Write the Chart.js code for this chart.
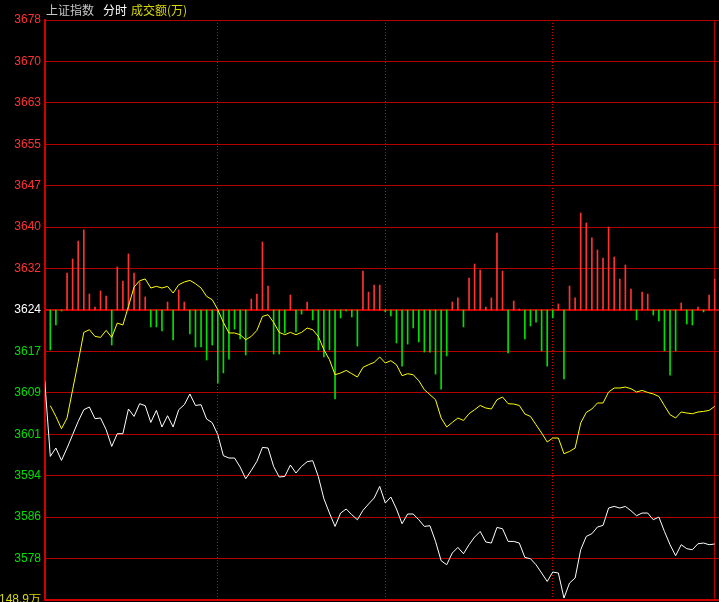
<!DOCTYPE html>
<html>
<head>
<meta charset="utf-8">
<title>上证指数 分时</title>
<script src="https://cdn.jsdelivr.net/npm/chart.js@4/dist/chart.umd.min.js"></script>
<style>
  html, body { margin: 0; padding: 0; background: #000; }
  canvas { display: block; }
</style>
</head>
<body>
<canvas id="fenshi" width="719" height="602"></canvas>
<script>
// 分时图 — white = index, yellow = second line, bars = 成交额 (red up / green down)

const PREV_CLOSE = 3624.3;   // 昨收, middle line
const STEP       = 7.68;     // price step between grid lines

// y tick labels, top → bottom
const TICK_LABELS = ['3678', '3670', '3663', '3655', '3647', '3640', '3632', '3624',
                     '3617', '3609', '3601', '3594', '3586', '3578', '148.9万'];
const VOL_MAX = 148.9;       // 万

// slot index of first price point (one point every 2 minutes)
const FIRST_SLOT = -1;

const PRICE = [
    3611.19, 3597.16, 3598.71, 3596.42, 3598.71, 3601.18, 3603.65, 3605.82, 3606.32, 3604.15,
    3604.28, 3602.11, 3599.01, 3601.37, 3601.37, 3605.95, 3604.57, 3606.93, 3606.56, 3603.46,
    3605.69, 3602.61, 3604.70, 3602.61, 3605.82, 3606.74, 3608.73, 3606.61, 3606.74, 3604.09,
    3603.41, 3601.18, 3597.29, 3596.86, 3596.86, 3595.19, 3593.02, 3594.56, 3596.23, 3598.83,
    3598.71, 3595.30, 3593.34, 3593.45, 3595.56, 3594.08, 3595.30, 3596.18, 3596.36, 3593.45,
    3589.32, 3586.66, 3584.18, 3586.66, 3587.41, 3586.35, 3585.42, 3587.15, 3588.33, 3589.44,
    3591.60, 3588.52, 3589.63, 3587.41, 3584.68, 3586.48, 3586.48, 3585.42, 3584.18, 3584.31,
    3581.40, 3577.82, 3577.08, 3579.25, 3580.29, 3579.12, 3580.79, 3582.21, 3583.25, 3581.29,
    3581.10, 3583.99, 3583.75, 3581.40, 3581.40, 3581.10, 3578.43, 3578.19, 3577.08, 3575.54,
    3573.98, 3575.73, 3575.54, 3570.90, 3573.69, 3574.61, 3579.86, 3582.33, 3582.83, 3584.07,
    3584.37, 3587.59, 3587.89, 3587.59, 3587.89, 3587.09, 3586.16, 3586.66, 3586.66, 3585.42,
    3585.92, 3583.25, 3580.79, 3578.75, 3580.79, 3580.05, 3579.86, 3580.97, 3581.10, 3580.79,
    3580.92
];

// yellow line, slots 0..119
const YELLOW = [
    3606.56, 3604.57, 3602.29, 3604.28, 3609.52, 3614.71, 3620.15, 3620.65, 3619.41, 3619.22,
    3620.52, 3619.22, 3621.89, 3621.52, 3624.97, 3628.56, 3629.73, 3630.05, 3628.38, 3628.68,
    3628.38, 3628.68, 3627.45, 3628.99, 3629.49, 3629.79, 3629.18, 3628.38, 3626.82, 3626.21,
    3624.36, 3622.00, 3620.04, 3620.04, 3619.72, 3618.79, 3619.41, 3620.52, 3623.11, 3623.43,
    3622.00, 3620.15, 3619.72, 3620.15, 3619.72, 3620.15, 3620.96, 3620.65, 3619.41, 3616.94,
    3615.09, 3612.30, 3612.62, 3613.10, 3612.49, 3611.88, 3613.66, 3614.16, 3614.59, 3615.59,
    3614.47, 3614.90, 3614.16, 3612.12, 3612.49, 3612.30, 3611.19, 3609.52, 3608.60, 3607.67,
    3604.28, 3602.61, 3603.46, 3604.28, 3603.83, 3605.07, 3605.82, 3606.61, 3606.13, 3605.95,
    3607.67, 3608.17, 3606.93, 3606.87, 3606.61, 3605.02, 3604.57, 3603.03, 3601.50, 3599.83,
    3600.57, 3600.57, 3597.66, 3598.08, 3598.71, 3603.35, 3605.32, 3605.95, 3607.06, 3607.06,
    3609.10, 3609.84, 3609.84, 3610.02, 3609.71, 3609.10, 3609.39, 3609.02, 3608.73, 3608.28,
    3606.56, 3604.89, 3604.28, 3605.39, 3605.20, 3605.07, 3605.39, 3605.50, 3605.69, 3606.43
];

// 成交额 (万), sign = direction (+ red up, - green down), slots 0..119
const VOLUME = [
    -20.5, -7.7, -0.5, 19.0, 26.2, 35.4, 41.1, 8.2, 1.5, 9.8,
    7.2, -18.0, 22.1, 14.9, 28.8, 19.0, 14.4, 6.7, -8.7, -8.7,
    -10.8, 4.1, -15.4, 10.3, 4.1, -12.3, -19.0, -19.0, -25.7, -18.0,
    -37.5, -32.3, -25.2, -9.8, -14.9, -23.1, 5.6, 8.2, 34.9, 12.3,
    -22.6, -22.6, -11.8, 7.7, -11.3, -2.1, 4.1, -5.1, -20.5, -24.1,
    -20.5, -45.7, -4.1, -0.5, -3.6, -18.5, 20.0, 9.2, 12.8, 12.8,
    -1.0, -3.1, -16.9, -28.8, -17.5, -9.2, -16.4, -21.6, -21.6, -32.9,
    -40.6, -23.6, 4.1, 6.2, -8.7, 16.4, 23.6, 20.5, 1.5, 6.2,
    39.5, 20.0, -22.1, 4.6, 0.5, -14.9, -8.2, -6.2, -21.0, -28.8,
    -4.1, 3.1, -35.4, 12.3, 6.2, 49.8, 44.7, 37.0, 30.8, 26.7,
    42.6, 27.2, 15.9, 23.1, 10.8, -5.1, 9.2, 8.2, -2.6, -5.6,
    -21.0, -33.4, -21.0, 3.6, -7.2, -7.7, 1.5, -1.0, 7.7, 15.9
];

const HOUR_SLOTS = [30, 60, 90];   // 10:30, 11:30/13:00, 14:00
const LAST_SLOT  = 119;
const X_MIN = -0.95, X_MAX = 119.77;

const RED    = '#ff3232';
const GREEN  = '#00e000';
const GRID   = '#b40000';
const YEL    = '#d8d800';

const CENTER_IDX = TICK_LABELS.indexOf('3624');

const titlePlugin = {
    id: 'fenshiTitle',
    afterDraw(chart) {
        const ctx = chart.ctx;
        ctx.save();
        ctx.font = '12px "Noto Sans CJK SC", sans-serif';
        ctx.textBaseline = 'middle';
        ctx.textAlign = 'left';
        ctx.fillStyle = '#c8c8c8';
        ctx.fillText('上证指数', 46, 10);
        ctx.fillStyle = '#ffffff';
        ctx.fillText('分时', 103, 10);
        ctx.fillStyle = YEL;
        ctx.fillText('成交额(万)', 131, 10);
        ctx.restore();
    }
};

new Chart(document.getElementById('fenshi'), {
    type: 'bar',
    data: {
        datasets: [
            {
                type: 'line',
                data: PRICE.map((v, i) => ({ x: i + FIRST_SLOT, y: v })),
                borderColor: '#ffffff',
                borderWidth: 1,
                pointRadius: 0,
                tension: 0,
                xAxisID: 'x',
                yAxisID: 'y',
                order: 1,
            },
            {
                type: 'line',
                data: YELLOW.map((v, i) => ({ x: i, y: v })),
                borderColor: '#ffff00',
                borderWidth: 1,
                pointRadius: 0,
                tension: 0,
                xAxisID: 'x',
                yAxisID: 'y',
                order: 2,
            },
            {
                type: 'bar',
                data: VOLUME.map((v, i) => ({ x: i, y: v })),
                backgroundColor: c => (c.raw && c.raw.y < 0) ? GREEN : RED,
                barThickness: 1,
                xAxisID: 'x',
                yAxisID: 'yv',
                order: 3,
            },
        ],
    },
    options: {
        responsive: false,
        animation: false,
        layout: { padding: { top: 20, bottom: 2, left: 0, right: 0 } },
        plugins: { legend: { display: false }, tooltip: { enabled: false } },
        scales: {
            x: {
                type: 'linear',
                offset: false,
                min: X_MIN, max: X_MAX,
                afterBuildTicks: s => { s.ticks = HOUR_SLOTS.map(v => ({ value: v })); },
                ticks: { display: false },
                grid: { offset: false, color: '#e00000', lineWidth: 1, drawTicks: false },
                border: { display: false, dash: [1, 2] },
            },
            x2: {
                type: 'linear',
                position: 'bottom',
                offset: false,
                min: X_MIN, max: X_MAX,
                afterBuildTicks: s => { s.ticks = [{ value: LAST_SLOT }]; },
                ticks: { display: false },
                grid: { offset: false, color: GRID, lineWidth: 1, drawTicks: false },
                border: { display: true, color: '#d00000', width: 2 },
            },
            y: {
                position: 'left',
                min: PREV_CLOSE - 7 * STEP,
                max: PREV_CLOSE + 7 * STEP,
                afterBuildTicks: s => {
                    s.ticks = TICK_LABELS.map((_, i) => ({ value: PREV_CLOSE + (CENTER_IDX - i) * STEP }));
                },
                afterFit: s => { s.width = 45; s.paddingTop = 0; s.paddingBottom = 0; },
                ticks: {
                    padding: 4,
                    autoSkip: false,
                    font: { family: '"Liberation Sans", Arial, sans-serif', size: 12 },
                    callback: (v, i) => TICK_LABELS[i],
                    color: c => {
                        const i = c.index;
                        if (i === TICK_LABELS.length - 1) return YEL;
                        if (i < CENTER_IDX) return RED;
                        if (i === CENTER_IDX) return '#ffffff';
                        return GREEN;
                    },
                },
                grid: {
                    drawTicks: false,
                    color: c => c.index === CENTER_IDX ? '#cc0000' : GRID,
                    lineWidth: c => c.index === CENTER_IDX ? 2 : 1,
                },
                border: { display: true, color: '#d00000', width: 2 },
            },
            yv: {
                display: false,
                min: -VOL_MAX,
                max: VOL_MAX,
            },
        },
    },
    plugins: [titlePlugin],
});
</script>
</body>
</html>
